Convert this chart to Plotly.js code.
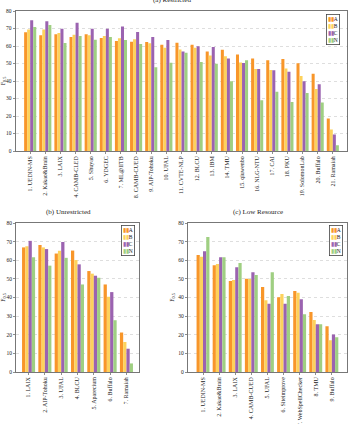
<!DOCTYPE html>
<html>
<head>
<meta charset="utf-8">
<script src="https://cdn.plot.ly/plotly-3.0.1.min.js"></script>
<style>html,body{margin:0;padding:0;background:#fff}#chart{width:350px;height:424px}</style>
</head>
<body>
<div id="chart"></div>
<script>
// ---- data ----
var restrictedTeams = ["1. UEDIN-MS","2. Kakao&Brain","3. LAIX","4. CAMB-CLED","5. Shuyao","6. YDGEC","7. ML@IITB","8. CAMB-CUED","9. AIP-Tohoku","10. UFAL","11. CVTE-NLP","12. BLCU","13. IBM","14. TMU","15. qiuwenbo","16. NLG-NTU","17. CAI","18. PKU","19. SolomonLab","20. Buffalo","21. Ramaiah"];
var resA = [67.8,66.1,66.7,65.1,66.7,64.6,62.9,62.4,62.3,60.7,61.8,60.7,56.9,57.9,55.1,52.9,51.9,52.6,50.2,44.2,18.6];
var resB = [69.5,69.5,67.4,66.5,66.1,65.7,64.5,63.9,61.6,59.0,58.0,59.0,54.6,54.2,50.6,46.9,46.3,47.1,42.9,35.5,12.3];
var resC = [74.7,74.1,69.9,73.3,69.9,69.9,71.2,68.0,65.2,63.5,56.8,59.9,59.5,52.8,50.3,46.9,46.2,45.3,39.9,38.1,9.4];
var resN = [70.9,72.0,61.7,65.7,63.6,65.1,63.4,61.2,47.8,50.4,56.1,50.8,49.9,39.8,51.9,29.0,33.8,28.0,33.2,27.7,3.3];

var unrestrictedTeams = ["1. LAIX","2. AIP-Tohoku","3. UFAL","4. BLCU","5. Aparecium","6. Buffalo","7. Ramaiah"];
var unrA = [66.9,68.2,63.6,65.2,54.2,47.0,21.2];
var unrB = [67.5,66.9,65.1,60.1,52.8,40.4,16.1];
var unrC = [70.4,66.0,69.8,57.8,51.7,42.9,12.5];
var unrN = [61.6,57.1,61.3,47.0,50.6,27.8,4.6];

var lowTeams = ["1. UEDIN-MS","2. Kakao&Brain","3. LAIX","4. CAMB-CUED","5. UFAL","6. Siteimprove","7. WebSpellChecker","8. TMU","9. Buffalo"];
var lowA = [62.8,57.3,48.9,50.1,45.7,40.1,43.5,32.2,24.5];
var lowB = [61.9,58.0,49.4,49.9,38.5,41.9,42.6,27.9,17.0];
var lowC = [64.8,61.6,56.2,53.5,36.7,36.7,39.0,25.6,20.2];
var lowN = [72.5,61.6,58.5,52.1,53.5,40.8,31.0,25.6,18.6];

var seriesNames = ["A","B","C","N"];
var yTicks = [0,10,20,30,40,50,60,70,80];

// ---- styles ----
var colors = ["#f8962a","#fdd25c","#9b63b0","#9fcf82"];
var FONT = "Liberation Serif, Times New Roman, serif";

function bars(cats, vals, xa, ya) {
  return vals.map(function(v, i) {
    return {type:"bar", x:cats, y:v, name:seriesNames[i], xaxis:xa, yaxis:ya,
      marker:{color:colors[i], line:{width:0}}, showlegend:false, hoverinfo:"skip"};
  });
}

var data = [].concat(
  bars(restrictedTeams, [resA,resB,resC,resN], "x", "y"),
  bars(unrestrictedTeams, [unrA,unrB,unrC,unrN], "x2", "y2"),
  bars(lowTeams, [lowA,lowB,lowC,lowN], "x3", "y3")
);

var W = 350, H = 424;
function px(x){return x/W;}
function py(y){return (H-y)/H;}

function xaxis(dom, anchor, rng) {
  return {domain:dom, anchor:anchor, type:"category", range:rng,
    tickangle:-90, tickfont:{family:FONT,size:6,color:"#222"},
    ticks:"outside", ticklen:2, tickcolor:"#444", tickwidth:0.6,
    showline:true, mirror:true, linecolor:"#555", linewidth:0.8,
    showgrid:false, zeroline:false, automargin:false, fixedrange:true};
}
function yaxis(dom, anchor) {
  return {domain:dom, anchor:anchor, range:[0,80], tickvals:yTicks, ticktext:yTicks.map(String),
    tickfont:{family:FONT,size:5.5,color:"#222"},
    ticks:"outside", ticklen:2, tickcolor:"#444", tickwidth:0.6,
    showline:true, mirror:true, linecolor:"#555", linewidth:0.8,
    showgrid:true, gridcolor:"#c8c8c8", griddash:"dot", gridwidth:0.6,
    zeroline:false, automargin:false, fixedrange:true,
    title:{text:"F<sub>0.5</sub>", font:{family:FONT,size:6,color:"#222"}, standoff:3}};
}

function legendAnn(xRight, yTop) {
  var txt = seriesNames.map(function(n,i){
    return '<span style="color:'+colors[i]+'">▮▮</span>'+n;
  }).join("<br>");
  return {xref:"paper", yref:"paper", x:px(xRight), y:py(yTop), xanchor:"right", yanchor:"top",
    text:txt, showarrow:false, align:"left", font:{family:FONT,size:5.5,color:"#222"},
    bordercolor:"#444", borderwidth:0.8, borderpad:1, bgcolor:"#fff"};
}
function titleAnn(txt, xc, yc) {
  return {xref:"paper", yref:"paper", x:px(xc), y:py(yc), xanchor:"center", yanchor:"middle",
    text:txt, showarrow:false, font:{family:FONT,size:7,color:"#222"}};
}

var layout = {
  width:W, height:H, margin:{l:0,r:0,t:0,b:0}, paper_bgcolor:"#fff", plot_bgcolor:"#fff",
  barmode:"group", bargap:0.2, bargroupgap:0, showlegend:false,
  font:{family:FONT},
  xaxis: xaxis([px(15.5),px(347.5)], "y", [-0.97, 20.97]),
  yaxis: yaxis([py(151),py(11)], "x"),
  xaxis2: xaxis([px(16),px(139)], "y2", [-0.77, 6.77]),
  yaxis2: yaxis([py(372),py(223)], "x2"),
  xaxis3: xaxis([px(187.7),px(347.5)], "y3", [-0.95, 8.97]),
  yaxis3: yaxis([py(372),py(223)], "x3"),
  annotations:[
    titleAnn("(a) Restricted", 172, 0.5),
    titleAnn("(b) Unrestricted", 68, 211.5),
    titleAnn("(c) Low Resource", 258, 211.5),
    legendAnn(340, 14),
    legendAnn(135, 225),
    legendAnn(343, 224.5)
  ]
};
layout.xaxis2.bargap = undefined;

Plotly.newPlot("chart", data, layout, {staticPlot:true, displayModeBar:false});
</script>
</body>
</html>
